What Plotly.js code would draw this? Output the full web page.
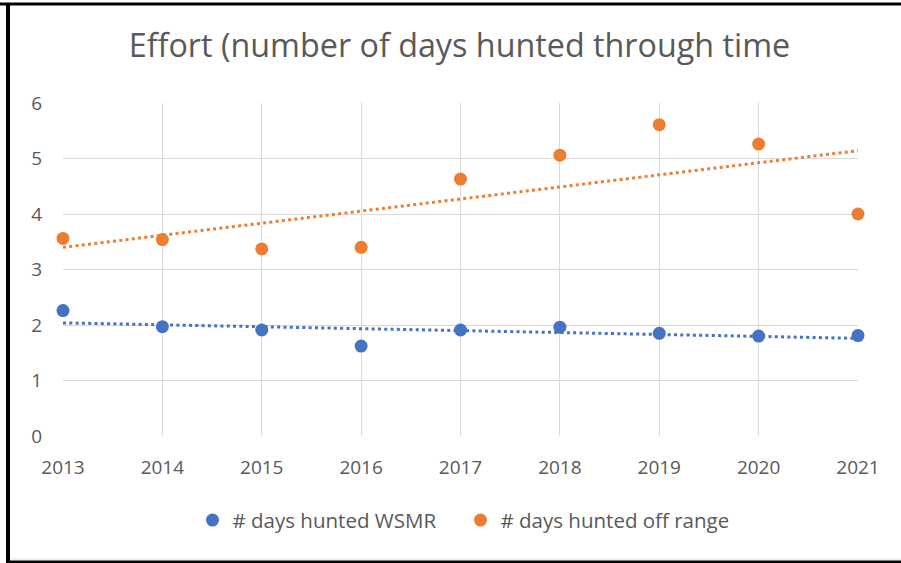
<!DOCTYPE html>
<html>
<head>
<meta charset="utf-8">
<script src="https://cdn.plot.ly/plotly-3.0.1.min.js"></script>
<style>
html,body{margin:0;padding:0;background:#fff;}
#chart{width:901px;height:563px;}
</style>
</head>
<body>
<div id="chart"></div>
<script>
const years = [2013, 2014, 2015, 2016, 2017, 2018, 2019, 2020, 2021];
const daysWSMR = [2.26, 1.97, 1.91, 1.62, 1.91, 1.96, 1.85, 1.80, 1.81];
const daysOffRange = [3.56, 3.54, 3.37, 3.40, 4.63, 5.06, 5.61, 5.26, 4.00];
const seriesNames = ['# days hunted WSMR', '# days hunted off range'];
const seriesColors = ['#4472C4', '#ED7D31'];
const titleText = 'Effort (number of days hunted through time';

function linFit(xs, ys) {
  const n = xs.length;
  const mx = xs.reduce((a, b) => a + b, 0) / n;
  const my = ys.reduce((a, b) => a + b, 0) / n;
  let sxy = 0, sxx = 0;
  for (let i = 0; i < n; i++) { sxy += (xs[i] - mx) * (ys[i] - my); sxx += (xs[i] - mx) ** 2; }
  const b = sxy / sxx, a = my - b * mx;
  const x0 = xs[0], x1 = xs[n - 1];
  return { x: [x0, x1], y: [a + b * x0, a + b * x1] };
}

const font = 'Open Sans, Noto Sans, sans-serif';
const data = [];
[daysWSMR, daysOffRange].forEach((ys, i) => {
  const f = linFit(years, ys);
  data.push({
    x: f.x, y: f.y, mode: 'lines', showlegend: false, hoverinfo: 'skip',
    line: { color: seriesColors[i], width: 3, dash: '3px,3.3px' }, cliponaxis: false
  });
});
[daysWSMR, daysOffRange].forEach((ys, i) => {
  data.push({
    x: years, y: ys, mode: 'markers', name: seriesNames[i],
    marker: { color: seriesColors[i], size: 13 }, cliponaxis: false
  });
});

const layout = {
  width: 901, height: 563,
  margin: { l: 63, r: 43, t: 103, b: 127 },
  paper_bgcolor: '#ffffff', plot_bgcolor: '#ffffff',
  title: { text: titleText, x: 0.51, xanchor: 'center', y: 0.918, yanchor: 'middle',
           font: { family: font, size: 32.3, color: '#595959' } },
  xaxis: {
    range: [2013, 2021], tickvals: years, ticktext: years.map(String),
    showgrid: true, gridcolor: '#d9d9d9', gridwidth: 1, zeroline: false,
    showline: false, ticks: 'outside', ticklen: 14, tickcolor: 'rgba(0,0,0,0)',
    tickfont: { family: font, size: 19, color: '#595959' }
  },
  yaxis: {
    range: [0, 6], dtick: 1, tick0: 0,
    showgrid: true, gridcolor: '#d9d9d9', gridwidth: 1, zeroline: false,
    showline: false, ticks: 'outside', ticklen: 16, tickcolor: 'rgba(0,0,0,0)',
    tickfont: { family: font, size: 19, color: '#595959' }
  },
  showlegend: true,
  legend: { orientation: 'h', x: 0.5, xanchor: 'center', y: -0.253, yanchor: 'middle',
            font: { family: font, size: 20.5, color: '#595959' },
            entrywidth: 223, entrywidthmode: 'pixels',
            traceorder: 'normal' },
  shapes: [
    { type: 'line', xref: 'paper', yref: 'paper', x0: -63/795, x1: 838/795, y0: 1 + 99/333, y1: 1 + 99/333, line: { color: '#000', width: 3 } },
    { type: 'line', xref: 'paper', yref: 'paper', x0: -55/795, x1: -55/795, y0: 1 + 100/333, y1: -127/333, line: { color: '#000', width: 4 } },
    { type: 'line', xref: 'paper', yref: 'paper', x0: -55/795, x1: 838/795, y0: -126/333, y1: -126/333, line: { color: '#000', width: 3 } },
    { type: 'line', xref: 'paper', yref: 'paper', x0: -52/795, x1: 838/795, y0: -123/333, y1: -123/333, line: { color: '#e0e0e0', width: 1 } }
  ]
};

Plotly.newPlot('chart', data, layout, { displayModeBar: false, staticPlot: true });
</script>
</body>
</html>
